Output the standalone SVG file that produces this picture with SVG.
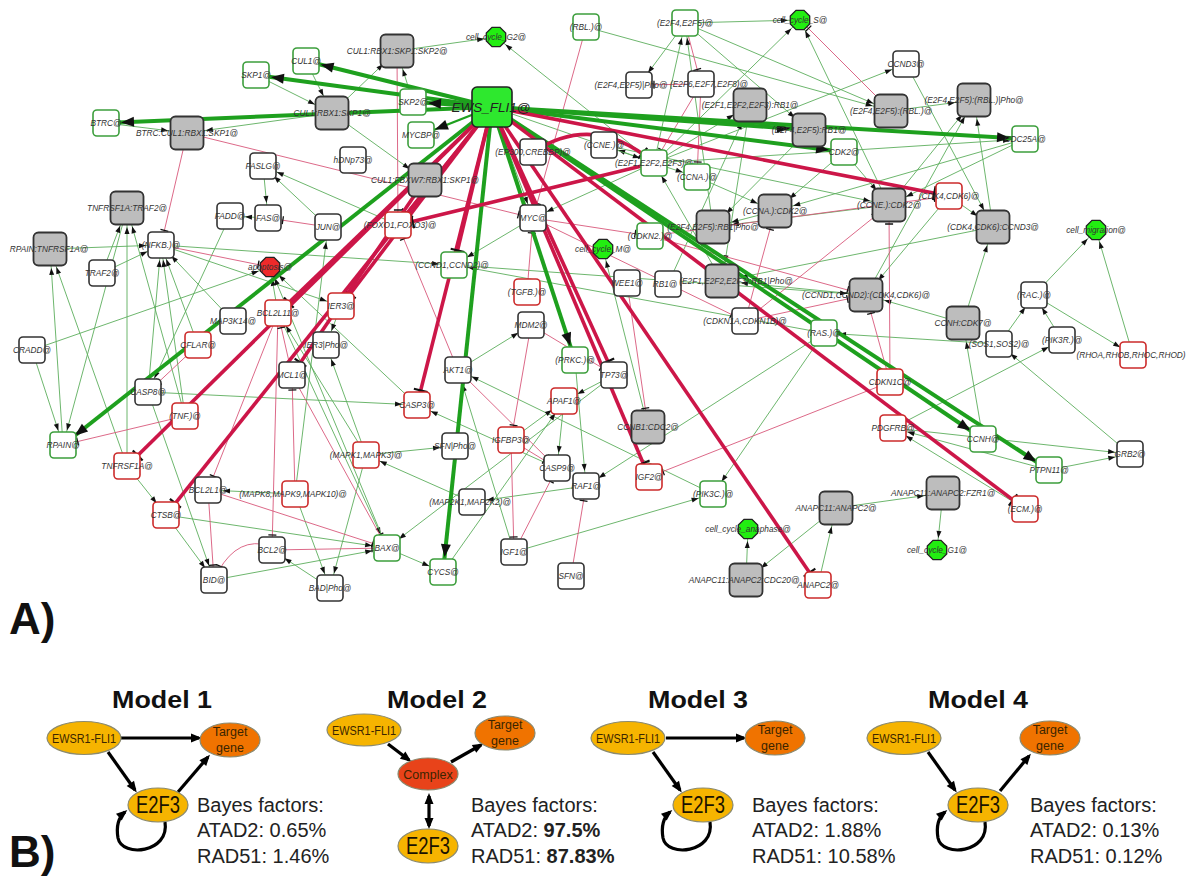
<svg xmlns="http://www.w3.org/2000/svg" xmlns:xlink="http://www.w3.org/1999/xlink" width="1188" height="881" viewBox="0 0 1188 881">
<style>
.tg{stroke:#5cae5c;stroke-width:0.9;fill:none}
.tr{stroke:#d8587a;stroke-width:0.9;fill:none}
.Tg{stroke:#1ea01e;stroke-width:4;fill:none}
.Tr{stroke:#cc1648;stroke-width:3.6;fill:none}
.w{fill:#fff;stroke:#333;stroke-width:1.6}
.gb{fill:#fff;stroke:#3c9e3c;stroke-width:1.6}
.rb{fill:#fff;stroke:#cc2b2b;stroke-width:1.6}
.cx{fill:#bdbdbd;stroke:#333;stroke-width:1.8}
.oc{fill:#22ee11;stroke:#222;stroke-width:1.3}
.ocr{fill:#ee2a2a;stroke:#222;stroke-width:1.3}
.lb{font-family:"Liberation Sans",Arial,sans-serif;font-style:italic;font-size:8.3px;fill:#333;text-anchor:middle}
.big{font-family:"Liberation Sans",Arial,sans-serif;font-weight:bold;font-size:44px;fill:#111}
.mt{font-family:"Liberation Sans",Arial,sans-serif;font-weight:bold;font-size:23px;fill:#111;text-anchor:middle}
.ey{fill:#f6b400;stroke:#8a8a70;stroke-width:1.2}
.eo{fill:#f07300;stroke:#8a8a70;stroke-width:1.2}
.ec{fill:#e8431a;stroke:#8a8a70;stroke-width:1.2}
.et{font-family:"Liberation Sans",Arial,sans-serif;font-size:12.5px;fill:#3b2500;text-anchor:middle}
.e2{font-family:"Liberation Sans",Arial,sans-serif;font-size:23px;fill:#1a1200;text-anchor:middle}
.bf{font-family:"Liberation Sans",Arial,sans-serif;font-size:20px;fill:#222}
.ba{stroke:#000;stroke-width:3.2;fill:none}
</style>
<defs>
<marker id="a13" markerUnits="userSpaceOnUse" markerWidth="8" markerHeight="6" refX="22" refY="2.5" orient="auto" overflow="visible"><path d="M0,0 L7,2.5 L0,5 z" fill="#111"/></marker>
<marker id="a17" markerUnits="userSpaceOnUse" markerWidth="8" markerHeight="6" refX="26" refY="2.5" orient="auto" overflow="visible"><path d="M0,0 L7,2.5 L0,5 z" fill="#111"/></marker>
<marker id="a10" markerUnits="userSpaceOnUse" markerWidth="8" markerHeight="6" refX="19" refY="2.5" orient="auto" overflow="visible"><path d="M0,0 L7,2.5 L0,5 z" fill="#111"/></marker>
<marker id="t13" markerUnits="userSpaceOnUse" markerWidth="3" markerHeight="8" refX="16" refY="2.5" orient="auto" overflow="visible"><path d="M1,-1.5 L1,6.5" stroke="#111" stroke-width="1.3"/></marker>
<marker id="t17" markerUnits="userSpaceOnUse" markerWidth="3" markerHeight="8" refX="20" refY="2.5" orient="auto" overflow="visible"><path d="M1,-1.5 L1,6.5" stroke="#111" stroke-width="1.3"/></marker>
<marker id="t10" markerUnits="userSpaceOnUse" markerWidth="3" markerHeight="8" refX="13" refY="2.5" orient="auto" overflow="visible"><path d="M1,-1.5 L1,6.5" stroke="#111" stroke-width="1.3"/></marker>
<marker id="A13" markerUnits="userSpaceOnUse" markerWidth="14" markerHeight="10" refX="28" refY="5" orient="auto" overflow="visible"><path d="M0,0 L13,5 L0,10 z" fill="#111"/></marker>
<marker id="A17" markerUnits="userSpaceOnUse" markerWidth="14" markerHeight="10" refX="32" refY="5" orient="auto" overflow="visible"><path d="M0,0 L13,5 L0,10 z" fill="#111"/></marker>
<marker id="T13" markerUnits="userSpaceOnUse" markerWidth="3" markerHeight="12" refX="16" refY="5" orient="auto" overflow="visible"><path d="M1,-2 L1,12" stroke="#111" stroke-width="2.2"/></marker>
<marker id="bk" markerUnits="userSpaceOnUse" markerWidth="11" markerHeight="9" refX="8" refY="4.5" orient="auto-start-reverse" overflow="visible"><path d="M0,0 L11,4.5 L0,9 z" fill="#000"/></marker>
<polygon id="oct" points="9.7,4 4,9.7 -4,9.7 -9.7,4 -9.7,-4 -4,-9.7 4,-9.7 9.7,-4"/>
</defs>
<rect x="0" y="0" width="1188" height="881" fill="#fff"/>

<g id="connectors">
<g id="thin-green">
<line class="tg" x1="306" y1="61" x2="332" y2="113" marker-end="url(#a17)"/>
<line class="tg" x1="256" y1="75" x2="332" y2="113" marker-end="url(#a17)"/>
<line class="tg" x1="332" y1="113" x2="397" y2="51" marker-end="url(#a17)"/>
<line class="tg" x1="413" y1="102" x2="397" y2="51" marker-end="url(#a17)"/>
<line class="tg" x1="332" y1="113" x2="187" y2="133" marker-end="url(#a17)"/>
<line class="tg" x1="106" y1="123" x2="187" y2="133" marker-end="url(#a17)"/>
<line class="tg" x1="332" y1="113" x2="425" y2="180" marker-end="url(#a17)"/>
<line class="tg" x1="263" y1="166" x2="268" y2="218" marker-end="url(#a13)"/>
<line class="tg" x1="398" y1="225" x2="263" y2="166" marker-end="url(#a13)"/>
<line class="tg" x1="328" y1="227" x2="263" y2="166" marker-end="url(#a13)"/>
<line class="tg" x1="397" y1="51" x2="496" y2="37" marker-end="url(#a10)"/>
<line class="tg" x1="654" y1="163" x2="496" y2="37" marker-end="url(#a10)"/>
<line class="tg" x1="586" y1="27" x2="891" y2="111" marker-end="url(#a17)"/>
<line class="tg" x1="685" y1="23" x2="639" y2="85" marker-end="url(#a13)"/>
<line class="tg" x1="685" y1="23" x2="800" y2="20" marker-end="url(#a10)"/>
<line class="tg" x1="685" y1="23" x2="891" y2="111" marker-end="url(#a17)"/>
<line class="tg" x1="685" y1="23" x2="809" y2="130" marker-end="url(#a17)"/>
<line class="tg" x1="654" y1="163" x2="604" y2="145" marker-end="url(#a13)"/>
<line class="tg" x1="654" y1="163" x2="697" y2="177" marker-end="url(#a13)"/>
<line class="tg" x1="654" y1="163" x2="750" y2="105" marker-end="url(#a17)"/>
<line class="tg" x1="654" y1="163" x2="800" y2="20" marker-end="url(#a10)"/>
<line class="tg" x1="889" y1="205" x2="800" y2="20" marker-end="url(#a10)"/>
<line class="tg" x1="654" y1="163" x2="906" y2="64" marker-end="url(#a13)"/>
<line class="tg" x1="906" y1="64" x2="993" y2="227" marker-end="url(#a17)"/>
<line class="tg" x1="949" y1="196" x2="993" y2="227" marker-end="url(#a17)"/>
<line class="tg" x1="891" y1="111" x2="974" y2="100" marker-end="url(#a17)"/>
<line class="tg" x1="889" y1="205" x2="974" y2="100" marker-end="url(#a17)"/>
<line class="tg" x1="866" y1="295" x2="974" y2="100" marker-end="url(#a17)"/>
<line class="tg" x1="993" y1="227" x2="974" y2="100" marker-end="url(#a17)"/>
<line class="tg" x1="654" y1="163" x2="1025" y2="139" marker-end="url(#a13)"/>
<line class="tg" x1="1025" y1="139" x2="889" y2="205" marker-end="url(#a17)"/>
<line class="tg" x1="1025" y1="139" x2="775" y2="211" marker-end="url(#a17)"/>
<line class="tg" x1="604" y1="145" x2="889" y2="205" marker-end="url(#a17)"/>
<line class="tg" x1="844" y1="152" x2="889" y2="205" marker-end="url(#a17)"/>
<line class="tg" x1="697" y1="177" x2="775" y2="211" marker-end="url(#a17)"/>
<line class="tg" x1="844" y1="152" x2="775" y2="211" marker-end="url(#a17)"/>
<line class="tg" x1="889" y1="205" x2="713" y2="227" marker-end="url(#a17)"/>
<line class="tg" x1="775" y1="211" x2="713" y2="227" marker-end="url(#a17)"/>
<line class="tg" x1="866" y1="295" x2="722" y2="281" marker-end="url(#a17)"/>
<line class="tg" x1="993" y1="227" x2="722" y2="281" marker-end="url(#a17)"/>
<line class="tg" x1="750" y1="105" x2="722" y2="281" marker-end="url(#a17)"/>
<line class="tg" x1="809" y1="130" x2="713" y2="227" marker-end="url(#a17)"/>
<line class="tg" x1="668" y1="284" x2="750" y2="105" marker-end="url(#a17)"/>
<line class="tg" x1="949" y1="196" x2="866" y2="295" marker-end="url(#a17)"/>
<line class="tg" x1="454" y1="265" x2="866" y2="295" marker-end="url(#a17)"/>
<line class="tg" x1="963" y1="323" x2="866" y2="295" marker-end="url(#a17)"/>
<line class="tg" x1="963" y1="323" x2="993" y2="227" marker-end="url(#a17)"/>
<line class="tg" x1="983" y1="439" x2="963" y2="323" marker-end="url(#a17)"/>
<line class="tg" x1="999" y1="344" x2="824" y2="333" marker-end="url(#a13)"/>
<line class="tg" x1="1130" y1="454" x2="999" y2="344" marker-end="url(#a13)"/>
<line class="tg" x1="893" y1="428" x2="1130" y2="454" marker-end="url(#a13)"/>
<line class="tg" x1="1049" y1="470" x2="1130" y2="454" marker-end="url(#a13)"/>
<line class="tg" x1="1049" y1="470" x2="893" y2="428" marker-end="url(#a13)"/>
<line class="tg" x1="1025" y1="509" x2="893" y2="428" marker-end="url(#a13)"/>
<line class="tg" x1="893" y1="428" x2="1062" y2="340" marker-end="url(#a13)"/>
<line class="tg" x1="1062" y1="340" x2="1034" y2="295" marker-end="url(#a13)"/>
<line class="tg" x1="999" y1="344" x2="1034" y2="295" marker-end="url(#a13)"/>
<line class="tg" x1="1034" y1="295" x2="1096" y2="230" marker-end="url(#a10)"/>
<line class="tg" x1="1034" y1="295" x2="1133" y2="355" marker-end="url(#a13)"/>
<line class="tg" x1="1133" y1="355" x2="1096" y2="230" marker-end="url(#a10)"/>
<line class="tg" x1="824" y1="333" x2="586" y2="486" marker-end="url(#a13)"/>
<line class="tg" x1="824" y1="333" x2="713" y2="494" marker-end="url(#a13)"/>
<line class="tg" x1="586" y1="486" x2="472" y2="502" marker-end="url(#a13)"/>
<line class="tg" x1="472" y1="502" x2="366" y2="455" marker-end="url(#a13)"/>
<line class="tg" x1="514" y1="552" x2="713" y2="494" marker-end="url(#a13)"/>
<line class="tg" x1="713" y1="494" x2="458" y2="370" marker-end="url(#a13)"/>
<line class="tg" x1="818" y1="585" x2="836" y2="508" marker-end="url(#a17)"/>
<line class="tg" x1="836" y1="508" x2="746" y2="580" marker-end="url(#a17)"/>
<line class="tg" x1="836" y1="508" x2="943" y2="493" marker-end="url(#a17)"/>
<line class="tg" x1="746" y1="580" x2="748" y2="529" marker-end="url(#a10)"/>
<line class="tg" x1="943" y1="493" x2="937" y2="550" marker-end="url(#a10)"/>
<line class="tg" x1="648" y1="427" x2="603" y2="249" marker-end="url(#a10)"/>
<line class="tg" x1="654" y1="163" x2="533" y2="218" marker-end="url(#a13)"/>
<line class="tg" x1="533" y1="218" x2="454" y2="265" marker-end="url(#a13)"/>
<line class="tg" x1="458" y1="370" x2="531" y2="325" marker-end="url(#a13)"/>
<line class="tg" x1="614" y1="375" x2="564" y2="401" marker-end="url(#a13)"/>
<line class="tg" x1="614" y1="375" x2="387" y2="548" marker-end="url(#a13)"/>
<line class="tg" x1="564" y1="401" x2="557" y2="468" marker-end="url(#a13)"/>
<line class="tg" x1="557" y1="468" x2="417" y2="405" marker-end="url(#a13)"/>
<line class="tg" x1="417" y1="405" x2="270" y2="267" marker-end="url(#a10)"/>
<line class="tg" x1="148" y1="392" x2="417" y2="405" marker-end="url(#a13)"/>
<line class="tg" x1="148" y1="392" x2="214" y2="580" marker-end="url(#a13)"/>
<line class="tg" x1="148" y1="392" x2="161" y2="245" marker-end="url(#a13)"/>
<line class="tg" x1="443" y1="572" x2="564" y2="401" marker-end="url(#a13)"/>
<line class="tg" x1="387" y1="548" x2="443" y2="572" marker-end="url(#a13)"/>
<line class="tg" x1="214" y1="580" x2="387" y2="548" marker-end="url(#a13)"/>
<line class="tg" x1="166" y1="515" x2="214" y2="580" marker-end="url(#a13)"/>
<line class="tg" x1="127" y1="466" x2="166" y2="515" marker-end="url(#a13)"/>
<line class="tg" x1="127" y1="466" x2="127" y2="208" marker-end="url(#a17)"/>
<line class="tg" x1="102" y1="273" x2="127" y2="208" marker-end="url(#a17)"/>
<line class="tg" x1="185" y1="416" x2="127" y2="208" marker-end="url(#a17)"/>
<line class="tg" x1="63" y1="445" x2="50" y2="249" marker-end="url(#a17)"/>
<line class="tg" x1="127" y1="466" x2="50" y2="249" marker-end="url(#a17)"/>
<line class="tg" x1="50" y1="249" x2="161" y2="245" marker-end="url(#a13)"/>
<line class="tg" x1="102" y1="273" x2="161" y2="245" marker-end="url(#a13)"/>
<line class="tg" x1="233" y1="321" x2="161" y2="245" marker-end="url(#a13)"/>
<line class="tg" x1="198" y1="345" x2="161" y2="245" marker-end="url(#a13)"/>
<line class="tg" x1="185" y1="416" x2="161" y2="245" marker-end="url(#a13)"/>
<line class="tg" x1="161" y1="245" x2="454" y2="265" marker-end="url(#a13)"/>
<line class="tg" x1="161" y1="245" x2="341" y2="306" marker-end="url(#a13)"/>
<line class="tg" x1="32" y1="350" x2="270" y2="267" marker-end="url(#a10)"/>
<line class="tg" x1="341" y1="306" x2="326" y2="345" marker-end="url(#a13)"/>
<line class="tg" x1="366" y1="455" x2="326" y2="345" marker-end="url(#a13)"/>
<line class="tg" x1="366" y1="455" x2="278" y2="313" marker-end="url(#a13)"/>
<line class="tg" x1="295" y1="494" x2="208" y2="490" marker-end="url(#a13)"/>
<line class="tg" x1="295" y1="494" x2="330" y2="588" marker-end="url(#a13)"/>
<line class="tg" x1="366" y1="455" x2="330" y2="588" marker-end="url(#a13)"/>
<line class="tg" x1="330" y1="588" x2="272" y2="550" marker-end="url(#a13)"/>
<line class="tg" x1="278" y1="313" x2="387" y2="548" marker-end="url(#a13)"/>
<line class="tg" x1="387" y1="548" x2="270" y2="267" marker-end="url(#a10)"/>
<line class="tg" x1="295" y1="494" x2="328" y2="227" marker-end="url(#a13)"/>
<line class="tg" x1="230" y1="216" x2="148" y2="392" marker-end="url(#a13)"/>
<line class="tg" x1="166" y1="515" x2="387" y2="548" marker-end="url(#a13)"/>
<line class="tg" x1="278" y1="313" x2="270" y2="267" marker-end="url(#a10)"/>
<line class="tg" x1="514" y1="552" x2="458" y2="370" marker-end="url(#a13)"/>
<line class="tg" x1="32" y1="350" x2="63" y2="445" marker-end="url(#a13)"/>
<line class="tg" x1="127" y1="208" x2="63" y2="445" marker-end="url(#a13)"/>
<line class="tg" x1="654" y1="163" x2="685" y2="23" marker-end="url(#a13)"/>
<line class="tg" x1="713" y1="227" x2="685" y2="23" marker-end="url(#a13)"/>
<line class="tg" x1="722" y1="281" x2="654" y2="163" marker-end="url(#a13)"/>
<line class="tg" x1="575" y1="360" x2="586" y2="486" marker-end="url(#a13)"/>
<line class="tg" x1="824" y1="333" x2="454" y2="265" marker-end="url(#a13)"/>
<line class="tg" x1="366" y1="455" x2="455" y2="446" marker-end="url(#a13)"/>
<line class="tg" x1="511" y1="440" x2="564" y2="401" marker-end="url(#a13)"/>
<line class="tg" x1="268" y1="218" x2="230" y2="216" marker-end="url(#a13)"/>
<line class="tg" x1="492" y1="107" x2="533" y2="218" marker-end="url(#a13)"/>
<line class="tg" x1="492" y1="107" x2="654" y2="163" marker-end="url(#a13)"/>
</g>
<g id="thin-red">
<line class="tr" x1="187" y1="133" x2="161" y2="245" marker-end="url(#t13)"/>
<line class="tr" x1="187" y1="133" x2="533" y2="218" marker-end="url(#t13)"/>
<line class="tr" x1="397" y1="51" x2="398" y2="225" marker-end="url(#t13)"/>
<line class="tr" x1="586" y1="27" x2="533" y2="218" marker-end="url(#t13)"/>
<line class="tr" x1="701" y1="84" x2="654" y2="163" marker-end="url(#t13)"/>
<line class="tr" x1="701" y1="84" x2="697" y2="177" marker-end="url(#t13)"/>
<line class="tr" x1="685" y1="23" x2="701" y2="84" marker-end="url(#t13)"/>
<line class="tr" x1="891" y1="111" x2="800" y2="20" marker-end="url(#t10)"/>
<line class="tr" x1="890" y1="382" x2="889" y2="205" marker-end="url(#t17)"/>
<line class="tr" x1="745" y1="321" x2="889" y2="205" marker-end="url(#t17)"/>
<line class="tr" x1="745" y1="321" x2="775" y2="211" marker-end="url(#t17)"/>
<line class="tr" x1="650" y1="236" x2="866" y2="295" marker-end="url(#t17)"/>
<line class="tr" x1="745" y1="321" x2="866" y2="295" marker-end="url(#t17)"/>
<line class="tr" x1="627" y1="283" x2="648" y2="427" marker-end="url(#t17)"/>
<line class="tr" x1="328" y1="227" x2="268" y2="218" marker-end="url(#t13)"/>
<line class="tr" x1="198" y1="345" x2="148" y2="392" marker-end="url(#t13)"/>
<line class="tr" x1="295" y1="494" x2="292" y2="375" marker-end="url(#t13)"/>
<line class="tr" x1="278" y1="313" x2="272" y2="550" marker-end="url(#t13)"/>
<line class="tr" x1="278" y1="313" x2="208" y2="490" marker-end="url(#t13)"/>
<line class="tr" x1="292" y1="375" x2="278" y2="313" marker-end="url(#t13)"/>
<line class="tr" x1="272" y1="550" x2="387" y2="548" marker-end="url(#t13)"/>
<path class="tr" d="M262,544 Q232,540 214,580" marker-end="url(#t13)"/>
<line class="tr" x1="208" y1="490" x2="214" y2="580" marker-end="url(#t13)"/>
<line class="tr" x1="208" y1="490" x2="387" y2="548" marker-end="url(#t13)"/>
<line class="tr" x1="511" y1="440" x2="514" y2="552" marker-end="url(#t13)"/>
<line class="tr" x1="511" y1="440" x2="557" y2="468" marker-end="url(#t13)"/>
<line class="tr" x1="514" y1="552" x2="557" y2="468" marker-end="url(#t13)"/>
<line class="tr" x1="571" y1="576" x2="586" y2="486" marker-end="url(#t13)"/>
<line class="tr" x1="531" y1="325" x2="614" y2="375" marker-end="url(#t13)"/>
<line class="tr" x1="458" y1="370" x2="398" y2="225" marker-end="url(#t13)"/>
<line class="tr" x1="458" y1="370" x2="557" y2="468" marker-end="url(#t13)"/>
<line class="tr" x1="185" y1="416" x2="63" y2="445" marker-end="url(#t13)"/>
<line class="tr" x1="161" y1="245" x2="270" y2="267" marker-end="url(#t10)"/>
<line class="tr" x1="527" y1="292" x2="533" y2="218" marker-end="url(#t13)"/>
<line class="tr" x1="292" y1="375" x2="387" y2="548" marker-end="url(#t13)"/>
<line class="tr" x1="533" y1="218" x2="745" y2="321" marker-end="url(#t13)"/>
<line class="tr" x1="533" y1="218" x2="650" y2="236" marker-end="url(#t13)"/>
<line class="tr" x1="531" y1="325" x2="511" y2="440" marker-end="url(#t13)"/>
<line class="tr" x1="650" y1="236" x2="949" y2="196" marker-end="url(#t13)"/>
<line class="tr" x1="890" y1="382" x2="866" y2="295" marker-end="url(#t17)"/>
<line class="tr" x1="701" y1="84" x2="639" y2="85" marker-end="url(#t13)"/>
<line class="tr" x1="890" y1="382" x2="649" y2="477" marker-end="url(#t13)"/>
</g>
<g id="thick-green">
<line class="Tg" x1="492" y1="107" x2="306" y2="61" marker-end="url(#A13)"/>
<line class="Tg" x1="492" y1="107" x2="256" y2="75" marker-end="url(#A13)"/>
<line class="Tg" x1="492" y1="107" x2="106" y2="123" marker-end="url(#A13)"/>
<line class="Tg" x1="492" y1="107" x2="413" y2="102" marker-end="url(#A13)"/>
<line class="Tg" x1="492" y1="107" x2="421" y2="135" marker-end="url(#A13)" style="stroke-width:2.4"/>
<line class="Tg" x1="492" y1="107" x2="63" y2="445" marker-end="url(#A13)"/>
<line class="Tg" x1="492" y1="107" x2="443" y2="572" marker-end="url(#A13)"/>
<line class="Tg" x1="492" y1="107" x2="575" y2="360" marker-end="url(#A13)"/>
<line class="Tg" x1="492" y1="107" x2="983" y2="439" marker-end="url(#A13)"/>
<line class="Tg" x1="492" y1="107" x2="1049" y2="470" marker-end="url(#A13)"/>
<line class="Tg" x1="492" y1="107" x2="809" y2="130" marker-end="url(#A17)"/>
<line class="Tg" x1="492" y1="107" x2="844" y2="152" marker-end="url(#A13)"/>
<line class="Tg" x1="492" y1="107" x2="1025" y2="139" marker-end="url(#A13)"/>
</g>
<g id="thick-red">
<line class="Tr" x1="492" y1="107" x2="398" y2="225" marker-end="url(#T13)"/>
<line class="Tr" x1="492" y1="107" x2="341" y2="306" marker-end="url(#T13)"/>
<line class="Tr" x1="492" y1="107" x2="278" y2="313" marker-end="url(#T13)"/>
<line class="Tr" x1="492" y1="107" x2="127" y2="466" marker-end="url(#T13)"/>
<line class="Tr" x1="492" y1="107" x2="166" y2="515" marker-end="url(#T13)"/>
<line class="Tr" x1="492" y1="107" x2="417" y2="405" marker-end="url(#T13)"/>
<line class="Tr" x1="492" y1="107" x2="454" y2="265" marker-end="url(#T13)"/>
<line class="Tr" x1="492" y1="107" x2="614" y2="375" marker-end="url(#T13)"/>
<line class="Tr" x1="492" y1="107" x2="649" y2="477" marker-end="url(#T13)"/>
<line class="Tr" x1="492" y1="107" x2="818" y2="585" marker-end="url(#T13)"/>
<line class="Tr" x1="492" y1="107" x2="1025" y2="509" marker-end="url(#T13)"/>
<line class="Tr" x1="492" y1="107" x2="949" y2="196" marker-end="url(#T13)"/>
<line class="Tr" x1="654" y1="163" x2="398" y2="225" marker-end="url(#T13)"/>
<line class="Tr" x1="425" y1="180" x2="292" y2="375" marker-end="url(#T13)"/>
<path class="Tr" d="M533,152 Q595,112 654,163" marker-end="url(#T13)"/>
</g>
</g>

<g id="nodes">
<g id="n-cul1"><rect class="gb" x="293" y="48" width="26" height="26" rx="4"/><text class="lb" x="306" y="64">CUL1@</text></g>
<g id="n-skp1"><rect class="gb" x="243" y="62" width="26" height="26" rx="4"/><text class="lb" x="256" y="78">SKP1@</text></g>
<g id="n-crs"><rect class="cx" x="315.5" y="96.5" width="33" height="33" rx="5"/><text class="lb" x="332" y="116">CUL1:RBX1:SKP1@</text></g>
<g id="n-skp2c"><rect class="cx" x="380.5" y="34.5" width="33" height="33" rx="5"/><text class="lb" x="397" y="54">CUL1:RBX1:SKP1:SKP2@</text></g>
<g id="n-btrc"><rect class="gb" x="93" y="110" width="26" height="26" rx="4"/><text class="lb" x="106" y="126">BTRC@</text></g>
<g id="n-btrcc"><rect class="cx" x="170.5" y="116.5" width="33" height="33" rx="5"/><text class="lb" x="187" y="136">BTRC:CUL1:RBX1:SKP1@</text></g>
<g id="n-faslg"><rect class="w" x="250" y="153" width="26" height="26" rx="4"/><text class="lb" x="263" y="169">FASLG@</text></g>
<g id="n-hdnp73"><rect class="w" x="340" y="147" width="26" height="26" rx="4"/><text class="lb" x="353" y="163">hDNp73@</text></g>
<g id="n-fbxw7"><rect class="cx" x="408.5" y="163.5" width="33" height="33" rx="5"/><text class="lb" x="425" y="183">CUL1:FBXW7:RBX1:SKP1@</text></g>
<g id="n-tt2"><rect class="cx" x="110.5" y="191.5" width="33" height="33" rx="5"/><text class="lb" x="127" y="211">TNFRSF1A:TRAF2@</text></g>
<g id="n-g2"><use href="#oct" x="496" y="37" class="oc"/><text class="lb" x="496" y="40">cell_cycle_G2@</text></g>
<g id="n-rbl"><rect class="gb" x="573" y="14" width="26" height="26" rx="4"/><text class="lb" x="586" y="30">(RBL.)@</text></g>
<g id="n-e2f45"><rect class="gb" x="672" y="10" width="26" height="26" rx="4"/><text class="lb" x="685" y="26">(E2F4,E2F5)@</text></g>
<g id="n-s"><use href="#oct" x="800" y="20" class="oc"/><text class="lb" x="800" y="23">cell_cycle_S@</text></g>
<g id="n-e45p"><rect class="w" x="626" y="72" width="26" height="26" rx="4"/><text class="lb" x="631" y="88">(E2F4,E2F5)|Pho@</text></g>
<g id="n-e678"><rect class="w" x="688" y="71" width="26" height="26" rx="4"/><text class="lb" x="709" y="87">(E2F6,E2F7,E2F8)@</text></g>
<g id="n-e123rb1"><rect class="cx" x="733.5" y="88.5" width="33" height="33" rx="5"/><text class="lb" x="750" y="108">(E2F1,E2F2,E2F3):RB1@</text></g>
<g id="n-skp2"><rect class="gb" x="400" y="89" width="26" height="26" rx="4"/><text class="lb" x="413" y="105">SKP2@</text></g>
<g id="n-mycbp"><rect class="gb" x="408" y="122" width="26" height="26" rx="4"/><text class="lb" x="421" y="138">MYCBP@</text></g>
<g id="n-ep300"><rect class="w" x="520" y="139" width="26" height="26" rx="4"/><text class="lb" x="533" y="155">(EP300,CREBBP)@</text></g>
<g id="n-ccne"><rect class="w" x="591" y="132" width="26" height="26" rx="4"/><text class="lb" x="604" y="148">(CCNE.)@</text></g>
<g id="n-e123"><rect class="gb" x="641" y="150" width="26" height="26" rx="4"/><text class="lb" x="654" y="166">(E2F1,E2F2,E2F3)@</text></g>
<g id="n-ccna"><rect class="gb" x="684" y="164" width="26" height="26" rx="4"/><text class="lb" x="697" y="180">(CCNA.)@</text></g>
<g id="n-e45rb1"><rect class="cx" x="792.5" y="113.5" width="33" height="33" rx="5"/><text class="lb" x="809" y="133">(E2F4,E2F5):RB1@</text></g>
<g id="n-ccnd3"><rect class="w" x="893" y="51" width="26" height="26" rx="4"/><text class="lb" x="906" y="67">CCND3@</text></g>
<g id="n-e45rbl"><rect class="cx" x="874.5" y="94.5" width="33" height="33" rx="5"/><text class="lb" x="891" y="114">(E2F4,E2F5):(RBL.)@</text></g>
<g id="n-e45rblp"><rect class="cx" x="957.5" y="83.5" width="33" height="33" rx="5"/><text class="lb" x="974" y="103">(E2F4,E2F5):(RBL.)|Pho@</text></g>
<g id="n-cdc25a"><rect class="gb" x="1012" y="126" width="26" height="26" rx="4"/><text class="lb" x="1025" y="142">CDC25A@</text></g>
<g id="n-cdk2"><rect class="gb" x="831" y="139" width="26" height="26" rx="4"/><text class="lb" x="844" y="155">CDK2@</text></g>
<g id="n-cdk46"><rect class="rb" x="936" y="183" width="26" height="26" rx="4"/><text class="lb" x="949" y="199">(CDK4,CDK6)@</text></g>
<g id="n-ccnecdk2"><rect class="cx" x="872.5" y="188.5" width="33" height="33" rx="5"/><text class="lb" x="889" y="208">(CCNE.):CDK2@</text></g>
<g id="n-cdk46d3"><rect class="cx" x="976.5" y="210.5" width="33" height="33" rx="5"/><text class="lb" x="993" y="230">(CDK4,CDK6):CCND3@</text></g>
<g id="n-migr"><use href="#oct" x="1096" y="230" class="oc"/><text class="lb" x="1096" y="233">cell_migration@</text></g>
<g id="n-d12cdk46"><rect class="cx" x="849.5" y="278.5" width="33" height="33" rx="5"/><text class="lb" x="866" y="298">(CCND1,CCND2):(CDK4,CDK6)@</text></g>
<g id="n-rac"><rect class="w" x="1021" y="282" width="26" height="26" rx="4"/><text class="lb" x="1034" y="298">(RAC.)@</text></g>
<g id="n-cdk7"><rect class="cx" x="946.5" y="306.5" width="33" height="33" rx="5"/><text class="lb" x="963" y="326">CCNH:CDK7@</text></g>
<g id="n-sos"><rect class="w" x="986" y="331" width="26" height="26" rx="4"/><text class="lb" x="999" y="347">(SOS1,SOS2)@</text></g>
<g id="n-pik3r"><rect class="w" x="1049" y="327" width="26" height="26" rx="4"/><text class="lb" x="1062" y="343">(PIK3R.)@</text></g>
<g id="n-rho"><rect class="rb" x="1120" y="342" width="26" height="26" rx="4"/><text class="lb" x="1131" y="358">(RHOA,RHOB,RHOC,RHOD)</text></g>
<g id="n-ras"><rect class="gb" x="811" y="320" width="26" height="26" rx="4"/><text class="lb" x="824" y="336">(RAS.)@</text></g>
<g id="n-cdkn1c"><rect class="rb" x="877" y="369" width="26" height="26" rx="4"/><text class="lb" x="890" y="385">CDKN1C@</text></g>
<g id="n-pdgfrb"><rect class="rb" x="880" y="415" width="26" height="26" rx="4"/><text class="lb" x="893" y="431">PDGFRB@</text></g>
<g id="n-ccnh"><rect class="gb" x="970" y="426" width="26" height="26" rx="4"/><text class="lb" x="983" y="442">CCNH@</text></g>
<g id="n-grb2"><rect class="w" x="1117" y="441" width="26" height="26" rx="4"/><text class="lb" x="1130" y="457">GRB2@</text></g>
<g id="n-ptpn11"><rect class="gb" x="1036" y="457" width="26" height="26" rx="4"/><text class="lb" x="1049" y="473">PTPN11@</text></g>
<g id="n-fzr1"><rect class="cx" x="926.5" y="476.5" width="33" height="33" rx="5"/><text class="lb" x="943" y="496">ANAPC11:ANAPC2:FZR1@</text></g>
<g id="n-a112"><rect class="cx" x="819.5" y="491.5" width="33" height="33" rx="5"/><text class="lb" x="836" y="511">ANAPC11:ANAPC2@</text></g>
<g id="n-ecm"><rect class="rb" x="1012" y="496" width="26" height="26" rx="4"/><text class="lb" x="1025" y="512">(ECM.)@</text></g>
<g id="n-g1"><use href="#oct" x="937" y="550" class="oc"/><text class="lb" x="937" y="553">cell_cycle_G1@</text></g>
<g id="n-anapc2"><rect class="rb" x="805" y="572" width="26" height="26" rx="4"/><text class="lb" x="818" y="588">ANAPC2@</text></g>
<g id="n-cdc20"><rect class="cx" x="729.5" y="563.5" width="33" height="33" rx="5"/><text class="lb" x="744" y="583">ANAPC11:ANAPC2:CDC20@</text></g>
<g id="n-anaph"><use href="#oct" x="748" y="529" class="oc"/><text class="lb" x="748" y="532">cell_cycle_anaphase@</text></g>
<g id="n-pik3c"><rect class="gb" x="700" y="481" width="26" height="26" rx="4"/><text class="lb" x="713" y="497">(PIK3C.)@</text></g>
<g id="n-igf2"><rect class="rb" x="636" y="464" width="26" height="26" rx="4"/><text class="lb" x="649" y="480">IGF2@</text></g>
<g id="n-ccnb1"><rect class="cx" x="631.5" y="410.5" width="33" height="33" rx="5"/><text class="lb" x="648" y="430">CCNB1:CDC2@</text></g>
<g id="n-apaf1"><rect class="rb" x="551" y="388" width="26" height="26" rx="4"/><text class="lb" x="564" y="404">APAF1@</text></g>
<g id="n-casp3"><rect class="rb" x="404" y="392" width="26" height="26" rx="4"/><text class="lb" x="417" y="408">CASP3@</text></g>
<g id="n-igfbp3"><rect class="rb" x="498" y="427" width="26" height="26" rx="4"/><text class="lb" x="511" y="443">IGFBP3@</text></g>
<g id="n-sfnp"><rect class="w" x="442" y="433" width="26" height="26" rx="4"/><text class="lb" x="455" y="449">SFN|Pho@</text></g>
<g id="n-casp9"><rect class="w" x="544" y="455" width="26" height="26" rx="4"/><text class="lb" x="557" y="471">CASP9@</text></g>
<g id="n-raf1"><rect class="w" x="573" y="473" width="26" height="26" rx="4"/><text class="lb" x="586" y="489">RAF1@</text></g>
<g id="n-map2k"><rect class="w" x="459" y="489" width="26" height="26" rx="4"/><text class="lb" x="470" y="505">(MAP2K1,MAP2K2)@</text></g>
<g id="n-igf1"><rect class="w" x="501" y="539" width="26" height="26" rx="4"/><text class="lb" x="514" y="555">IGF1@</text></g>
<g id="n-sfn"><rect class="w" x="558" y="563" width="26" height="26" rx="4"/><text class="lb" x="571" y="579">SFN@</text></g>
<g id="n-cycs"><rect class="gb" x="430" y="559" width="26" height="26" rx="4"/><text class="lb" x="443" y="575">CYCS@</text></g>
<g id="n-tp73"><rect class="w" x="601" y="362" width="26" height="26" rx="4"/><text class="lb" x="614" y="378">TP73@</text></g>
<g id="n-prkc"><rect class="gb" x="562" y="347" width="26" height="26" rx="4"/><text class="lb" x="575" y="363">(PRKC.)@</text></g>
<g id="n-akt1"><rect class="w" x="445" y="357" width="26" height="26" rx="4"/><text class="lb" x="458" y="373">AKT1@</text></g>
<g id="n-mdm2"><rect class="w" x="518" y="312" width="26" height="26" rx="4"/><text class="lb" x="531" y="328">MDM2@</text></g>
<g id="n-tgfb"><rect class="rb" x="514" y="279" width="26" height="26" rx="4"/><text class="lb" x="527" y="295">(TGFB.)@</text></g>
<g id="n-ccnd12"><rect class="gb" x="441" y="252" width="26" height="26" rx="4"/><text class="lb" x="452" y="268">(CCND1,CCND2)@</text></g>
<g id="n-myc"><rect class="w" x="520" y="205" width="26" height="26" rx="4"/><text class="lb" x="533" y="221">MYC@</text></g>
<g id="n-m"><use href="#oct" x="603" y="249" class="oc"/><text class="lb" x="603" y="252">cell_cycle_M@</text></g>
<g id="n-cdkn2"><rect class="gb" x="637" y="223" width="26" height="26" rx="4"/><text class="lb" x="650" y="239">(CDKN2.)@</text></g>
<g id="n-wee1"><rect class="w" x="614" y="270" width="26" height="26" rx="4"/><text class="lb" x="627" y="286">WEE1@</text></g>
<g id="n-rb1"><rect class="w" x="655" y="271" width="26" height="26" rx="4"/><text class="lb" x="665" y="287">RB1@</text></g>
<g id="n-e123rb1p"><rect class="cx" x="705.5" y="264.5" width="33" height="33" rx="5"/><text class="lb" x="736" y="284">(E2F1,E2F2,E2F3):RB1|Pho@</text></g>
<g id="n-e45rb1p"><rect class="cx" x="696.5" y="210.5" width="33" height="33" rx="5"/><text class="lb" x="713" y="230">(E2F4,E2F5):RB1|Pho@</text></g>
<g id="n-ccnacdk2"><rect class="cx" x="758.5" y="194.5" width="33" height="33" rx="5"/><text class="lb" x="775" y="214">(CCNA.):CDK2@</text></g>
<g id="n-cdkn1ab"><rect class="w" x="732" y="308" width="26" height="26" rx="4"/><text class="lb" x="745" y="324">(CDKN1A,CDKN1B)@</text></g>
<g id="n-foxo"><rect class="rb" x="385" y="212" width="26" height="26" rx="4"/><text class="lb" x="400" y="228">(FOXO1,FOXO3)@</text></g>
<g id="n-fadd"><rect class="w" x="217" y="203" width="26" height="26" rx="4"/><text class="lb" x="230" y="219">FADD@</text></g>
<g id="n-fas"><rect class="w" x="255" y="205" width="26" height="26" rx="4"/><text class="lb" x="268" y="221">FAS@</text></g>
<g id="n-jun"><rect class="w" x="315" y="214" width="26" height="26" rx="4"/><text class="lb" x="328" y="230">JUN@</text></g>
<g id="n-rptnf"><rect class="cx" x="33.5" y="232.5" width="33" height="33" rx="5"/><text class="lb" x="49" y="252">RPAIN:TNFRSF1A@</text></g>
<g id="n-nfkb"><rect class="w" x="148" y="232" width="26" height="26" rx="4"/><text class="lb" x="161" y="248">(NFKB.)@</text></g>
<g id="n-traf2"><rect class="w" x="89" y="260" width="26" height="26" rx="4"/><text class="lb" x="102" y="276">TRAF2@</text></g>
<g id="n-apop"><use href="#oct" x="270" y="267" class="ocr"/><text class="lb" x="270" y="270">apoptosis@</text></g>
<g id="n-ier3"><rect class="rb" x="328" y="293" width="26" height="26" rx="4"/><text class="lb" x="341" y="309">IER3@</text></g>
<g id="n-bcl2l11"><rect class="rb" x="265" y="300" width="26" height="26" rx="4"/><text class="lb" x="278" y="316">BCL2L11@</text></g>
<g id="n-map3k14"><rect class="w" x="220" y="308" width="26" height="26" rx="4"/><text class="lb" x="233" y="324">MAP3K14@</text></g>
<g id="n-cflar"><rect class="rb" x="185" y="332" width="26" height="26" rx="4"/><text class="lb" x="198" y="348">CFLAR@</text></g>
<g id="n-cradd"><rect class="w" x="19" y="337" width="26" height="26" rx="4"/><text class="lb" x="32" y="353">CRADD@</text></g>
<g id="n-ier3p"><rect class="w" x="313" y="332" width="26" height="26" rx="4"/><text class="lb" x="326" y="348">IER3|Pho@</text></g>
<g id="n-mcl1"><rect class="w" x="279" y="362" width="26" height="26" rx="4"/><text class="lb" x="292" y="378">MCL1@</text></g>
<g id="n-casp8"><rect class="w" x="135" y="379" width="26" height="26" rx="4"/><text class="lb" x="148" y="395">CASP8@</text></g>
<g id="n-rpain"><rect class="gb" x="50" y="432" width="26" height="26" rx="4"/><text class="lb" x="63" y="448">RPAIN@</text></g>
<g id="n-tnf"><rect class="rb" x="172" y="403" width="26" height="26" rx="4"/><text class="lb" x="185" y="419">(TNF.)@</text></g>
<g id="n-tnfrsf1a"><rect class="rb" x="114" y="453" width="26" height="26" rx="4"/><text class="lb" x="127" y="469">TNFRSF1A@</text></g>
<g id="n-bcl2l1"><rect class="w" x="195" y="477" width="26" height="26" rx="4"/><text class="lb" x="208" y="493">BCL2L1@</text></g>
<g id="n-mapk8"><rect class="rb" x="282" y="481" width="26" height="26" rx="4"/><text class="lb" x="293" y="497">(MAPK8,MAPK9,MAPK10)@</text></g>
<g id="n-mapk13"><rect class="rb" x="353" y="442" width="26" height="26" rx="4"/><text class="lb" x="366" y="458">(MAPK1,MAPK3)@</text></g>
<g id="n-ctsb"><rect class="rb" x="153" y="502" width="26" height="26" rx="4"/><text class="lb" x="166" y="518">CTSB@</text></g>
<g id="n-bcl2"><rect class="w" x="259" y="537" width="26" height="26" rx="4"/><text class="lb" x="272" y="553">BCL2@</text></g>
<g id="n-bax"><rect class="gb" x="374" y="535" width="26" height="26" rx="4"/><text class="lb" x="387" y="551">BAX@</text></g>
<g id="n-bid"><rect class="w" x="201" y="567" width="26" height="26" rx="4"/><text class="lb" x="214" y="583">BID@</text></g>
<g id="n-badp"><rect class="w" x="317" y="575" width="26" height="26" rx="4"/><text class="lb" x="330" y="591">BAD|Pho@</text></g>
<g id="n-ews"><rect x="472" y="87" width="40" height="40" rx="5" fill="#2ee82e" stroke="#222" stroke-width="1.6"/><text x="491" y="112" font-family="Liberation Sans, Arial, sans-serif" font-style="italic" font-size="13.5" fill="#222" text-anchor="middle">EWS_FLI1@</text></g>
</g>

<g id="panel-labels">
<text class="big" x="9" y="634">A)</text>
<text class="big" x="9" y="867">B)</text>
</g>

<g id="model1">
<text class="mt" x="162" y="708" textLength="100" lengthAdjust="spacingAndGlyphs">Model 1</text>
<g id="m1-connectors">
<line class="ba" x1="121" y1="738" x2="199" y2="738" marker-end="url(#bk)"/>
<line class="ba" x1="108" y1="752" x2="135" y2="790" marker-end="url(#bk)"/>
<line class="ba" x1="178" y1="792" x2="208" y2="757" marker-end="url(#bk)"/>
<path class="ba" d="M165,822 C170,853 122,858 118,838 C116,826 119,817 125,812" marker-end="url(#bk)"/>
</g>
<g id="m1-ews"><ellipse class="ey" cx="84" cy="738" rx="37" ry="16.5"/><text class="et" x="84" y="742.5" textLength="64" lengthAdjust="spacingAndGlyphs">EWSR1-FLI1</text></g>
<g id="m1-target"><ellipse class="eo" cx="230" cy="740" rx="30" ry="17"/><text class="et" x="230" y="736">Target</text><text class="et" x="230" y="752">gene</text></g>
<g id="m1-e2f3"><ellipse class="ey" cx="158" cy="805" rx="30" ry="17"/><text class="e2" x="158" y="813" textLength="44" lengthAdjust="spacingAndGlyphs">E2F3</text></g>
<text class="bf" x="197" y="812">Bayes factors:</text>
<text class="bf" x="197" y="837">ATAD2: 0.65%</text>
<text class="bf" x="197" y="863">RAD51: 1.46%</text>
</g>

<g id="model2">
<text class="mt" x="437" y="708" textLength="100" lengthAdjust="spacingAndGlyphs">Model 2</text>
<g id="m2-connectors">
<line class="ba" x1="388" y1="744" x2="409" y2="760" marker-end="url(#bk)"/>
<line class="ba" x1="451" y1="762" x2="481" y2="745" marker-end="url(#bk)"/>
<line class="ba" x1="429" y1="796" x2="429" y2="826" marker-start="url(#bk)" marker-end="url(#bk)"/>
</g>
<g id="m2-ews"><ellipse class="ey" cx="364" cy="730" rx="37" ry="16"/><text class="et" x="364" y="734.5" textLength="64" lengthAdjust="spacingAndGlyphs">EWSR1-FLI1</text></g>
<g id="m2-target"><ellipse class="eo" cx="505" cy="733" rx="30" ry="17"/><text class="et" x="505" y="729">Target</text><text class="et" x="505" y="745">gene</text></g>
<g id="m2-complex"><ellipse class="ec" cx="428" cy="774" rx="30" ry="16"/><text class="et" x="428" y="778.5">Complex</text></g>
<g id="m2-e2f3"><ellipse class="ey" cx="428" cy="846" rx="30" ry="17"/><text class="e2" x="428" y="854" textLength="44" lengthAdjust="spacingAndGlyphs">E2F3</text></g>
<text class="bf" x="471" y="812">Bayes factors:</text>
<text class="bf" x="471" y="837">ATAD2: <tspan font-weight="bold">97.5%</tspan></text>
<text class="bf" x="471" y="863">RAD51: <tspan font-weight="bold">87.83%</tspan></text>
</g>

<g id="model3">
<text class="mt" x="698" y="708" textLength="100" lengthAdjust="spacingAndGlyphs">Model 3</text>
<g id="m3-connectors">
<line class="ba" x1="666" y1="738" x2="744" y2="738" marker-end="url(#bk)"/>
<line class="ba" x1="653" y1="752" x2="680" y2="790" marker-end="url(#bk)"/>
<path class="ba" d="M710,822 C715,853 667,858 663,838 C661,826 664,817 670,812" marker-end="url(#bk)"/>
</g>
<g id="m3-ews"><ellipse class="ey" cx="628" cy="738" rx="37" ry="16.5"/><text class="et" x="628" y="742.5" textLength="64" lengthAdjust="spacingAndGlyphs">EWSR1-FLI1</text></g>
<g id="m3-target"><ellipse class="eo" cx="775" cy="738" rx="30" ry="17"/><text class="et" x="775" y="734">Target</text><text class="et" x="775" y="750">gene</text></g>
<g id="m3-e2f3"><ellipse class="ey" cx="703" cy="805" rx="30" ry="17"/><text class="e2" x="703" y="813" textLength="44" lengthAdjust="spacingAndGlyphs">E2F3</text></g>
<text class="bf" x="752" y="812">Bayes factors:</text>
<text class="bf" x="752" y="837">ATAD2: 1.88%</text>
<text class="bf" x="752" y="863">RAD51: 10.58%</text>
</g>

<g id="model4">
<text class="mt" x="978" y="708" textLength="100" lengthAdjust="spacingAndGlyphs">Model 4</text>
<g id="m4-connectors">
<line class="ba" x1="928" y1="752" x2="955" y2="790" marker-end="url(#bk)"/>
<line class="ba" x1="1000" y1="791" x2="1029" y2="756" marker-end="url(#bk)"/>
<path class="ba" d="M985,822 C990,853 942,858 938,838 C936,826 939,817 945,812" marker-end="url(#bk)"/>
</g>
<g id="m4-ews"><ellipse class="ey" cx="904" cy="738" rx="37" ry="16.5"/><text class="et" x="904" y="742.5" textLength="64" lengthAdjust="spacingAndGlyphs">EWSR1-FLI1</text></g>
<g id="m4-target"><ellipse class="eo" cx="1050" cy="738" rx="30" ry="17"/><text class="et" x="1050" y="734">Target</text><text class="et" x="1050" y="750">gene</text></g>
<g id="m4-e2f3"><ellipse class="ey" cx="978" cy="805" rx="30" ry="17"/><text class="e2" x="978" y="813" textLength="44" lengthAdjust="spacingAndGlyphs">E2F3</text></g>
<text class="bf" x="1030" y="812">Bayes factors:</text>
<text class="bf" x="1030" y="837">ATAD2: 0.13%</text>
<text class="bf" x="1030" y="863">RAD51: 0.12%</text>
</g>
</svg>
